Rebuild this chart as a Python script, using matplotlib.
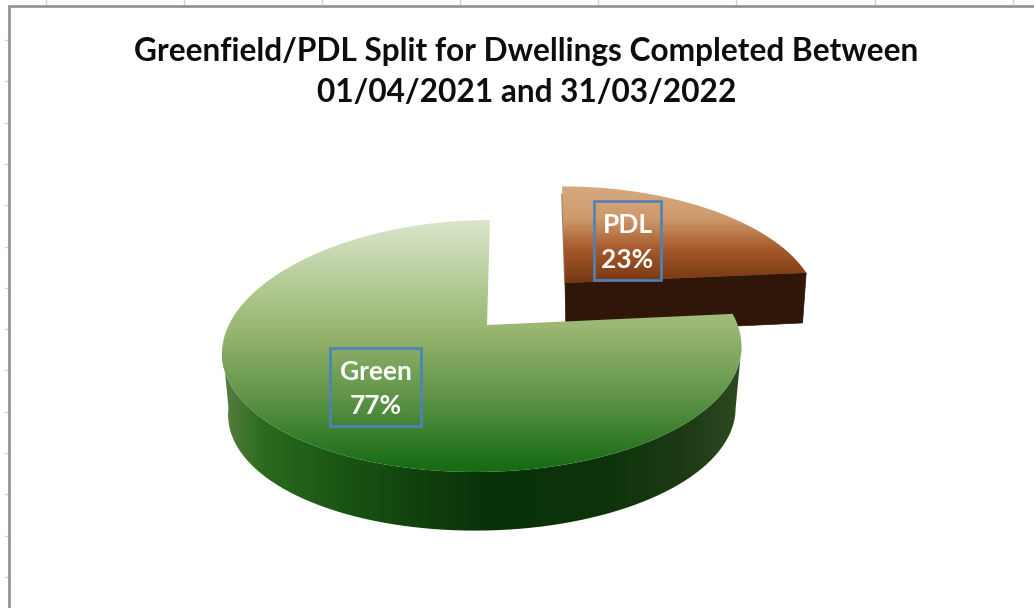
#!/usr/bin/env python3
import numpy as np
import matplotlib
matplotlib.use('Agg')
import matplotlib.pyplot as plt
from matplotlib.colors import LinearSegmentedColormap
from matplotlib.patches import PathPatch, Rectangle
from matplotlib.path import Path

# Values
categories = ['PDL', 'Green']
shares = [23, 77]
title = 'Greenfield/PDL Split for Dwellings Completed Between\n01/04/2021 and 31/03/2022'

# Slice angles, clockwise from 12 o'clock
split = 360 * shares[0] / sum(shares)
pdl_range = (0, split)
green_range = (split, 360)

fig = plt.figure(figsize=(10.34, 6.08), dpi=100)
ax = fig.add_axes([0, 0, 1, 1])
ax.axis('off')


def project(theta, apex=(487, 325), sx=1.0, sy=1.0, drop=0, shrink=1.0, lean=3.5):
    # disc seen in perspective, so the apex sits above the ellipse centre
    t = np.radians(theta)
    u = np.sin(t)
    v = np.cos(t)
    w = 1 + v / 6
    x = apex[0] + sx * shrink * ((256 * u + lean * v) / w - 4 * (1 - v))
    y = apex[1] + drop + sy * shrink * (-122.5 * v / w + 4 * u ** 2)
    return x, y


def arc(start, end, **kw):
    theta = np.linspace(start, end, 240)
    x, y = project(theta, **kw)
    return np.column_stack([x, y])


def gradient_fill(points, stops, extent, horizontal=False, zorder=1):
    # image gradient clipped to the polygon
    cmap = LinearSegmentedColormap.from_list('g', stops)
    ramp = np.linspace(0, 1, 512)
    ramp = ramp[None, :] if horizontal else ramp[:, None]
    im = ax.imshow(ramp, cmap=cmap, extent=extent, origin='upper', aspect='auto',
                   interpolation='bilinear', zorder=zorder)
    patch = PathPatch(Path(points), transform=ax.transData, fc='none', ec='none')
    ax.add_patch(patch)
    im.set_clip_path(patch)


# PDL slice, pulled out of the pie
pdl_kw = dict(apex=(565, 283), sx=0.985, sy=0.92, lean=-3.5)
pdl_top = np.vstack([[565, 283], arc(*pdl_range, **pdl_kw)])
rim = arc(split, split, **pdl_kw)[0]
rim_low = arc(split, split, drop=50, shrink=0.985, **pdl_kw)[0]
corner = arc(0, 0, **pdl_kw)[0]
pdl_side = np.array([[565, 283], rim, rim_low, [566, 334]])
ax.add_patch(plt.Polygon(pdl_side, fc='#2f1608', ec='#2f1608', lw=0.5, zorder=2))
ax.plot([corner[0], 565], [corner[1] + 8, 283], color='#4a2a14', lw=1.2, alpha=0.6, zorder=2)
gradient_fill(pdl_top, [(0, '#d6aa82'), (0.33, '#cf9a6b'), (0.65, '#a5582b'), (1, '#73350f')],
              (555, 810, 285, 185), zorder=3)

# Green slice: side wall between the two silhouette points, then the top face
green_top = np.vstack([[487, 325], arc(*green_range)])
side_start, side_end = 98, 262
upper = arc(side_start, side_end)
lower = arc(side_end, side_start, drop=62, shrink=0.977)
gradient_fill(np.vstack([upper, lower]),
              [(0, '#567f40'), (0.08, '#2a6a1e'), (0.25, '#185212'), (0.5, '#0a320a'),
               (0.72, '#0c3208'), (0.9, '#1e3c16'), (1, '#2f4b24')],
              (222, 745, 540, 310), horizontal=True, zorder=4)
gradient_fill(green_top, [(0, '#dbe7cd'), (0.25, '#b4cb97'), (0.45, '#96b46e'), (0.7, '#5f9449'),
                          (0.98, '#176c14'), (1, '#176c14')],
              (215, 750, 473, 219), zorder=5)

# Data label boxes
label_boxes = {'PDL': (594, 201, 67, 79), 'Green': (330, 348, 91, 78)}
for name, share in zip(categories, shares):
    bx, by, bw, bh = label_boxes[name]
    ax.add_patch(Rectangle((bx, by), bw, bh, fc='none', ec='#4f81bd', lw=1.9, zorder=6))
    ax.text(bx + bw / 2, by + bh / 2 + 2, f'{name}\n{share}%', color='white', fontsize=19,
            fontweight='bold', family='Lato', ha='center', va='center', linespacing=1.55, zorder=7)

# Chart title
ax.text(526.5, 72, title, color='#0d0d0d', fontsize=22.8, fontweight='bold', family='Lato',
        ha='center', va='center', linespacing=1.5, zorder=7)

# Spreadsheet frame and the cell lines showing round it
for x in [46, 184, 322, 460, 598, 736, 875, 1013]:
    ax.plot([x, x], [0, 4], color='#d4d4d4', lw=1, zorder=0)
for y in np.arange(40, 608, 41.3):
    ax.plot([5, 8], [y, y], color='#d4d4d4', lw=1, zorder=0)
ax.plot([9, 9, 1034], [608, 6, 6], color='#8f8f8f', lw=1.9, solid_joinstyle='miter', zorder=8)

ax.set_xlim(0, 1034)
ax.set_ylim(608, 0)

plt.savefig('out.png', dpi=100)
